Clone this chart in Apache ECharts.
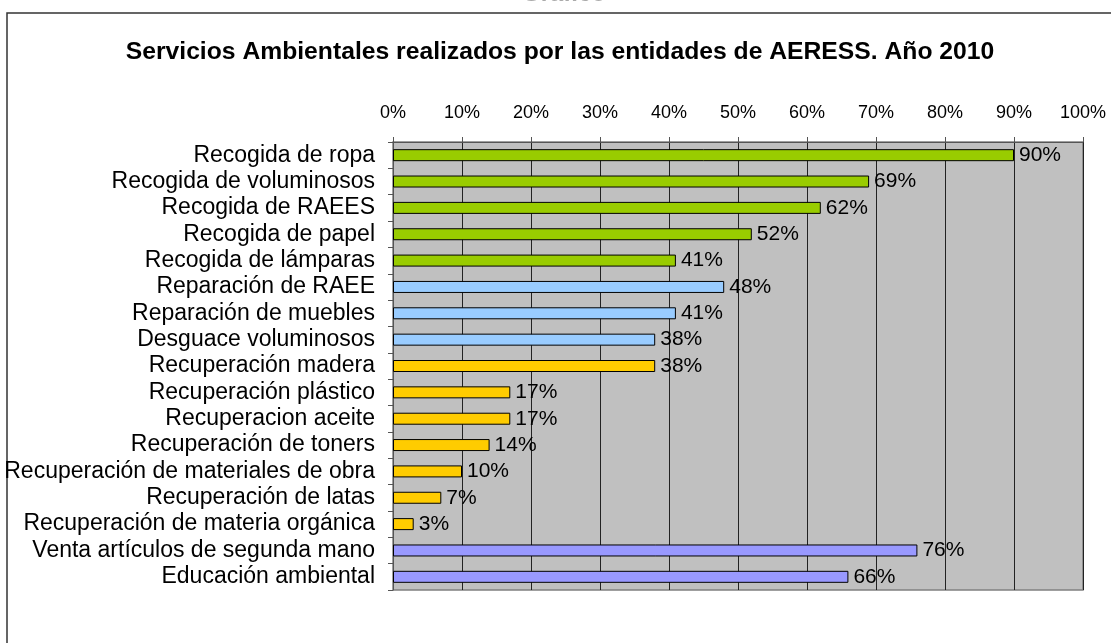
<!DOCTYPE html>
<html>
<head>
<meta charset="utf-8">
<script src="https://cdn.jsdelivr.net/npm/echarts@6/dist/echarts.min.js"></script>
<style>
  html, body { margin: 0; padding: 0; background: #fff; }
  #chart { width: 1111px; height: 643px; }
</style>
</head>
<body>
<div id="chart"></div>
<script>
// datos
var categorias = [
  'Recogida de ropa',
  'Recogida de voluminosos',
  'Recogida de RAEES',
  'Recogida de papel',
  'Recogida de lámparas',
  'Reparación de RAEE',
  'Reparación de muebles',
  'Desguace voluminosos',
  'Recuperación madera',
  'Recuperación plástico',
  'Recuperacion aceite',
  'Recuperación de toners',
  'Recuperación de materiales de obra',
  'Recuperación de latas',
  'Recuperación de materia orgánica',
  'Venta artículos de segunda mano',
  'Educación ambiental'
];
var porcentajes = [90, 69, 62, 52, 41, 48, 41, 38, 38, 17, 17, 14, 10, 7, 3, 76, 66];
var grupos = ['recogida', 'recogida', 'recogida', 'recogida', 'recogida',
  'reparacion', 'reparacion', 'reparacion',
  'recuperacion', 'recuperacion', 'recuperacion', 'recuperacion', 'recuperacion', 'recuperacion', 'recuperacion',
  'otros', 'otros'];

var colores = {
  recogida: '#99CC00',
  reparacion: '#99CCFF',
  recuperacion: '#FFCC00',
  otros: '#9999FF'
};

var fuente = '"Liberation Sans", Arial, sans-serif';

var chart = echarts.init(document.getElementById('chart'));

chart.setOption({
  animation: false,
  backgroundColor: '#fff',
  textStyle: { fontFamily: fuente },
  title: {
    text: 'Servicios Ambientales realizados por las entidades de AERESS. Año 2010',
    left: 555,
    top: 35,
    textAlign: 'center',
    textStyle: { fontSize: 24.7, fontWeight: 'bold', color: '#000', fontFamily: fuente }
  },
  graphic: [
    {
      type: 'text',
      left: 522,
      top: -18,
      style: { text: 'Gráfico', font: 'bold 24px "Liberation Sans", Arial', fill: '#aaa' }
    },
    {
      type: 'rect',
      shape: { x: 7, y: 13, width: 1200, height: 700 },
      style: { fill: 'none', stroke: '#333', lineWidth: 1.5 },
      z: -1
    }
  ],
  grid: {
    left: 393,
    top: 142,
    width: 690,
    height: 448,
    show: true,
    backgroundColor: '#C0C0C0',
    borderColor: '#808080',
    borderWidth: 1.5
  },
  xAxis: {
    type: 'value',
    position: 'top',
    min: 0,
    max: 100,
    interval: 10,
    axisLine: { show: true, lineStyle: { color: '#555', width: 1 } },
    axisTick: { show: true, length: 5, lineStyle: { color: '#555' } },
    axisLabel: { formatter: '{value}%', color: '#000', fontSize: 18, margin: 20 },
    splitLine: { show: true, lineStyle: { color: '#222', width: 1 } }
  },
  yAxis: {
    type: 'category',
    inverse: true,
    data: categorias,
    axisLine: { show: true, lineStyle: { color: '#555' } },
    axisTick: { show: true, length: 5, interval: 0, lineStyle: { color: '#555' } },
    axisLabel: { color: '#000', fontSize: 23, margin: 18, interval: 0, hideOverlap: false }
  },
  series: [{
    type: 'bar',
    barWidth: 12,
    data: porcentajes.map(function (v, i) {
      return { value: v, itemStyle: { color: colores[grupos[i]] } };
    }),
    itemStyle: { borderColor: '#000', borderWidth: 1 },
    label: {
      show: true,
      position: 'right',
      distance: 5,
      formatter: '{c}%',
      color: '#000',
      fontSize: 21
    }
  }]
});
</script>
</body>
</html>
